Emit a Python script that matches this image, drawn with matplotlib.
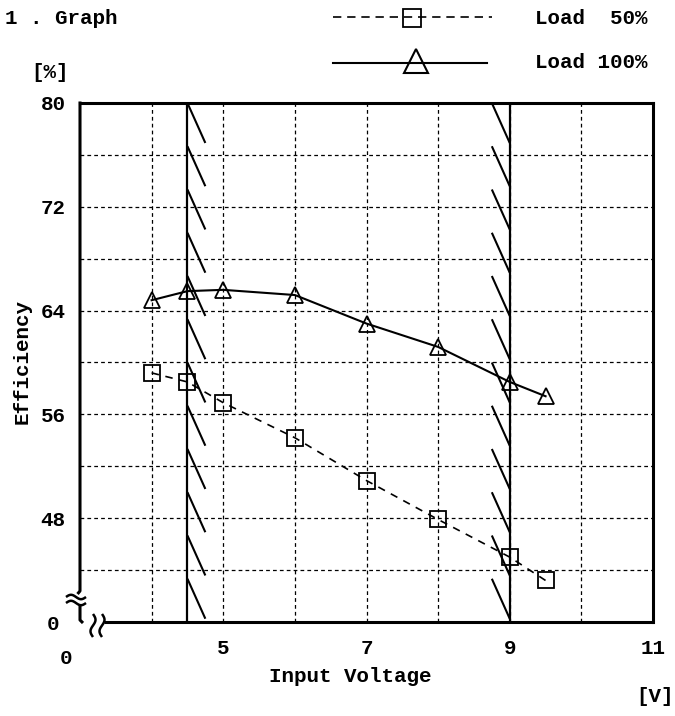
import numpy as np
import matplotlib

matplotlib.use("Agg")
import matplotlib.pyplot as plt
from matplotlib.lines import Line2D
from matplotlib.transforms import Affine2D

# efficiency vs input voltage at two load levels
voltage = [4.0, 4.5, 5.0, 6.0, 7.0, 8.0, 9.0, 9.5]
eff_load50 = [59.2, 58.5, 56.9, 54.2, 50.9, 47.9, 45.0, 43.2]
eff_load100 = [64.8, 65.5, 65.6, 65.2, 63.0, 61.2, 58.5, 57.4]

x_ticks = [5, 7, 9, 11]
y_ticks = [48, 56, 64, 72, 80]
x_grid = [4, 5, 6, 7, 8, 9, 10]
y_grid = [44, 48, 52, 56, 60, 64, 68, 72, 76]
range_limits = [4.5, 9.0]  # input range boundaries (hatched)

FONT = "Liberation Mono"
FW = "bold"
FS = 15
W, H = 675, 716

fig = plt.figure(figsize=(W / 100, H / 100), dpi=100)
# pixel coordinates, origin top-left
px = Affine2D().scale(1 / W, -1 / H).translate(0, 1) + fig.transFigure

ax = fig.add_axes([80 / W, 1 - 622 / H, 573 / W, 519 / H])
ax.set_xlim(3, 11)
ax.set_ylim(40, 80)

for s in ("left", "bottom"):
    ax.spines[s].set_visible(False)
for s in ("top", "right"):
    ax.spines[s].set_linewidth(2.2)

ax.set_xticks(x_ticks)
ax.set_xticklabels([str(v) for v in x_ticks], fontsize=FS, family=FONT, weight=FW)
ax.set_yticks(y_ticks)
ax.set_yticklabels([str(v) for v in y_ticks], fontsize=FS, family=FONT, weight=FW)
ax.tick_params(axis="both", length=0)
ax.tick_params(axis="y", pad=10.5)
ax.tick_params(axis="x", pad=12)

# dotted grid
for gx in x_grid:
    ax.axvline(gx, color="k", lw=0.9, ls=(0, (3, 2.5)), zorder=1)
for gy in y_grid:
    ax.axhline(gy, color="k", lw=0.9, ls=(0, (3, 2.5)), zorder=1)

# range boundaries with hatch strokes on the inside
n_hatch = 12
step = 40 / n_hatch
for i, v in enumerate(range_limits):
    ax.axvline(v, color="k", lw=1.6, zorder=2)
    sign = 1 if i == 0 else -1
    for k in range(n_hatch):
        y0 = 80 - k * step
        if sign > 0:
            xs, ys = [v, v + 0.25], [y0, y0 - 3.08]
        else:
            xs, ys = [v - 0.25, v], [y0, y0 - 3.08]
        ax.plot(xs, ys, color="k", lw=1.5, zorder=2, solid_capstyle="butt")

ax.plot(voltage, eff_load50, color="k", lw=1.2, ls=(0, (4.5, 4)),
        marker="s", ms=11, mfc="none", mec="k", mew=1.3, zorder=3)
ax.plot(voltage, eff_load100, color="k", lw=1.5, ls="-",
        marker="^", ms=12, mfc="none", mec="k", mew=1.3, zorder=3)

# left / bottom spines with axis break marks
def seg(xs, ys, lw=2.2):
    fig.add_artist(Line2D(xs, ys, color="k", lw=lw, transform=px,
                          solid_capstyle="butt"))

seg([80, 80, 77.5], [101.5, 591, 594])
t = np.linspace(0, 2 * np.pi, 40)
for yb in (597, 603):
    seg(66 + 20 * t / (2 * np.pi), yb - 2.2 * np.sin(t), lw=1.8)
seg([80, 80, 83], [604, 620, 623])
yy = np.linspace(614, 637, 40)
for cx in (93, 102):
    seg(cx + 2.5 * np.sin((yy - 614) / 23 * 2 * np.pi), yy, lw=1.8)
seg([104, 654], [622, 622])


def label(x, y, s, ha="center", **kw):
    fig.text(x, y, s, transform=px, fontsize=FS, family=FONT, weight=FW,
             ha=ha, va="center", **kw)


# x / y origin labels
label(53, 624, "0")
label(66, 658, "0")

# titles and units
label(5, 19, "1 . Graph", ha="left")
label(50, 73, "[%]")
label(22, 362, "Efficiency", rotation=90)
label(350, 677, "Input Voltage")
label(655, 697, "[V]")

# legend
fig.add_artist(Line2D([333, 492], [17, 17], color="k", lw=1.2,
                      ls=(0, (5, 3.5)), transform=px))
fig.add_artist(Line2D([412], [18], marker="s", ms=13, mfc="none", mec="k",
                      mew=1.3, transform=px))
fig.add_artist(Line2D([333, 487], [63, 63], color="k", lw=1.5, transform=px))
fig.add_artist(Line2D([416], [61], marker="^", ms=17, mfc="none", mec="k",
                      mew=1.5, transform=px))
label(535, 19, "Load  50%", ha="left")
label(535, 63, "Load 100%", ha="left")

fig.savefig("out.png", dpi=100)
